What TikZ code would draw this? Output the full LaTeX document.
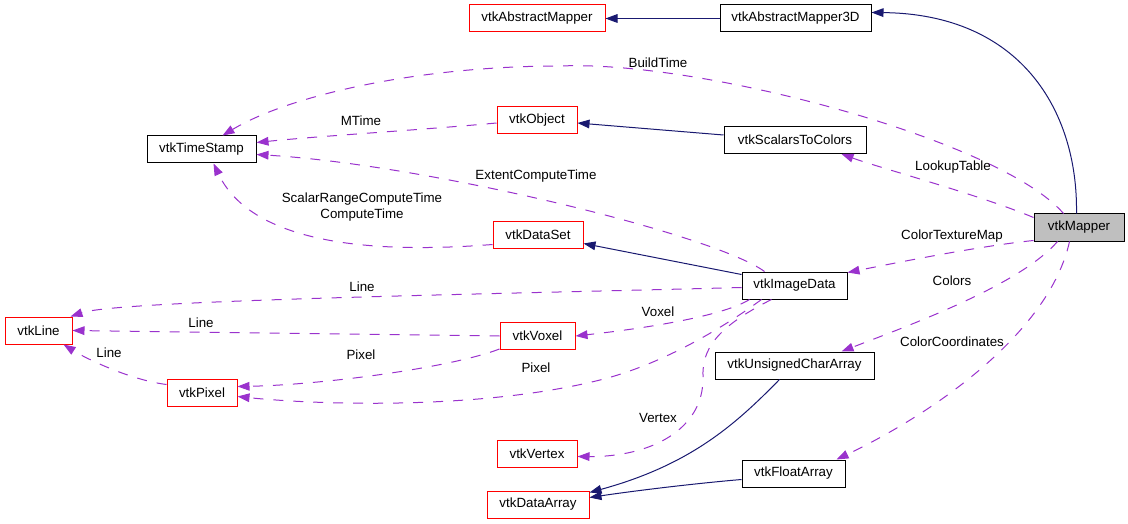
\documentclass[tikz,border=0pt]{standalone}
\usepackage{fontspec}
\setmainfont{Liberation Sans}
\usetikzlibrary{arrows.meta}
\definecolor{depcol}{HTML}{9A32CD}
\definecolor{inhcol}{HTML}{191970}
\definecolor{mapfill}{HTML}{BFBFBF}
\begin{document}
\begin{tikzpicture}[x=0.75pt,y=-0.75pt,
  cls/.style={draw=black, line width=0.75pt, minimum height=20.25pt, inner sep=0pt, font=\fontsize{10}{12}\selectfont},
  undoc/.style={cls, draw=red},
  lbl/.style={inner sep=0pt, font=\fontsize{10}{12}\selectfont},
  inhe/.style={draw=inhcol, line width=0.75pt, -{Triangle[length=9pt,width=6.5pt]}},
  usage/.style={draw=depcol, line width=0.75pt, dash pattern=on 7.5pt off 7.5pt, -{Triangle[length=9pt,width=6.5pt]}}]
\useasboundingbox (0,0) rectangle (1128,524);
% nodes
\node[undoc, minimum width=102pt] (absM) at (537,18.5) {vtkAbstractMapper};
\node[cls, minimum width=113.25pt] (absM3) at (795.5,18.5) {vtkAbstractMapper3D};
\node[cls, minimum width=81.75pt] (ts) at (201.5,149.5) {vtkTimeStamp};
\node[undoc, minimum width=60pt] (obj) at (537,120) {vtkObject};
\node[cls, minimum width=106.5pt] (s2c) at (795,140) {vtkScalarsToColors};
\node[cls, fill=mapfill, minimum width=67.5pt] (mapper) at (1079,227.5) {vtkMapper};
\node[undoc, minimum width=67.5pt] (ds) at (538,234.5) {vtkDataSet};
\node[cls, minimum width=78.75pt] (img) at (794.5,285.5) {vtkImageData};
\node[undoc, minimum width=50.25pt] (line) at (38.5,330.5) {vtkLine};
\node[undoc, minimum width=56.25pt] (voxel) at (537.5,336) {vtkVoxel};
\node[undoc, minimum width=52.5pt] (pixel) at (202,392.5) {vtkPixel};
\node[cls, minimum width=119.25pt] (uca) at (794.5,365.5) {vtkUnsignedCharArray};
\node[undoc, minimum width=60pt] (vertex) at (537,453.5) {vtkVertex};
\node[cls, minimum width=77.25pt] (fa) at (793.5,473.5) {vtkFloatArray};
\node[undoc, minimum width=76.5pt] (da) at (538,504.5) {vtkDataArray};
% inheritance edges
\draw[inhe] (absM3.west) -- (absM.east);
\draw[inhe] ([shift={(43,0)}]mapper.north west) .. controls (1078,110) and (1020,14) .. ([shift={(0,-6)}]absM3.east);
\draw[inhe] ([shift={(0,9)}]s2c.north west) -- ([shift={(0,17)}]obj.north east);
\draw[inhe] ([shift={(0,3)}]img.north west) -- ([shift={(0,23)}]ds.north east);
\draw[inhe] ([shift={(65,0)}]uca.south west) .. controls (735,425) and (690,465) .. ([shift={(0,2)}]da.north east);
\draw[inhe] ([shift={(0,20)}]fa.north west) .. controls (700,483) and (640,490) .. ([shift={(0,7)}]da.north east);
% usage edges
\coordinate (bt) at (560,66);
\draw[usage] ([shift={(30,0)}]mapper.north west) .. controls (1000,140) and (700,60) .. (bt)
  .. controls (420,66) and (290,95) .. ([shift={(76,0)}]ts.north west);
\draw[usage] ([shift={(0,17)}]obj.north west) .. controls (420,130) and (320,136) .. ([shift={(0,7)}]ts.north east);
\draw[usage] ([shift={(23,0)}]img.north west) .. controls (715,235) and (430,165) .. ([shift={(0,19)}]ts.north east);
\draw[usage] ([shift={(0,24)}]ds.north west) .. controls (360,255) and (250,240) .. ([shift={(67,0)}]ts.south west);
\draw[usage] ([shift={(0,4)}]mapper.north west) .. controls (980,195) and (880,168) .. ([shift={(118,0)}]s2c.south west);
\draw[usage] ([shift={(0,-1)}]mapper.south west) .. controls (980,246) and (900,262) .. ([shift={(0,1)}]img.north east);
\draw[usage] ([shift={(0,16)}]img.north west) .. controls (500,294) and (120,300) .. ([shift={(-2,0)}]line.north east);
\draw[usage] (voxel.west) -- ([shift={(0,14)}]line.north east);
\draw[usage] ([shift={(0,6)}]pixel.north west) .. controls (130,380) and (85,358) .. ([shift={(59,0)}]line.south west);
\draw[usage] ([shift={(0,-1)}]voxel.south west) .. controls (450,368) and (320,385) .. ([shift={(0,8)}]pixel.north east);
\coordinate (px) at (600,380);
\draw[usage] ([shift={(20,0)}]img.south west) .. controls (720,330) and (660,365) .. (px)
  .. controls (480,410) and (320,405) .. ([shift={(0,18)}]pixel.north east);
\draw[usage] ([shift={(8,0)}]img.south west) .. controls (720,318) and (630,330) .. (voxel.east);
\coordinate (vx) at (703,377);
\draw[usage] ([shift={(30,0)}]img.south west) .. controls (715,328) and (702,350) .. (vx)
  .. controls (704,430) and (650,457) .. ([shift={(0,17)}]vertex.north east);
\draw[usage] ([shift={(24,0)}]mapper.south west) .. controls (1020,285) and (910,325) .. ([shift={(127,0)}]uca.north west);
\draw[usage] ([shift={(36,0)}]mapper.south west) .. controls (1050,330) and (940,410) .. ([shift={(95,0)}]fa.north west);
% labels
\node[lbl] (lBuild) at (658,63) {BuildTime};
\node[lbl] (lMTime) at (361,121) {MTime};
\node[lbl] (lExtent) at (536,176) {ExtentComputeTime};
\node[lbl] (lScalar) at (362,199) {ScalarRangeComputeTime};
\node[lbl] (lCompute) at (362,215) {ComputeTime};
\node[lbl] (lLookup) at (953,167) {LookupTable};
\node[lbl] (lCTM) at (952,236) {ColorTextureMap};
\node[lbl] (lColors) at (952,281) {Colors};
\node[lbl] (lCC) at (952,342) {ColorCoordinates};
\node[lbl] (lLine1) at (362,287) {Line};
\node[lbl] (lLine2) at (201,323) {Line};
\node[lbl] (lLine3) at (109,353) {Line};
\node[lbl] (lPixel1) at (361,355) {Pixel};
\node[lbl] (lPixel2) at (536,368) {Pixel};
\node[lbl] (lVoxel) at (658,312) {Voxel};
\node[lbl] (lVertex) at (658,418) {Vertex};
\end{tikzpicture}
\end{document}
